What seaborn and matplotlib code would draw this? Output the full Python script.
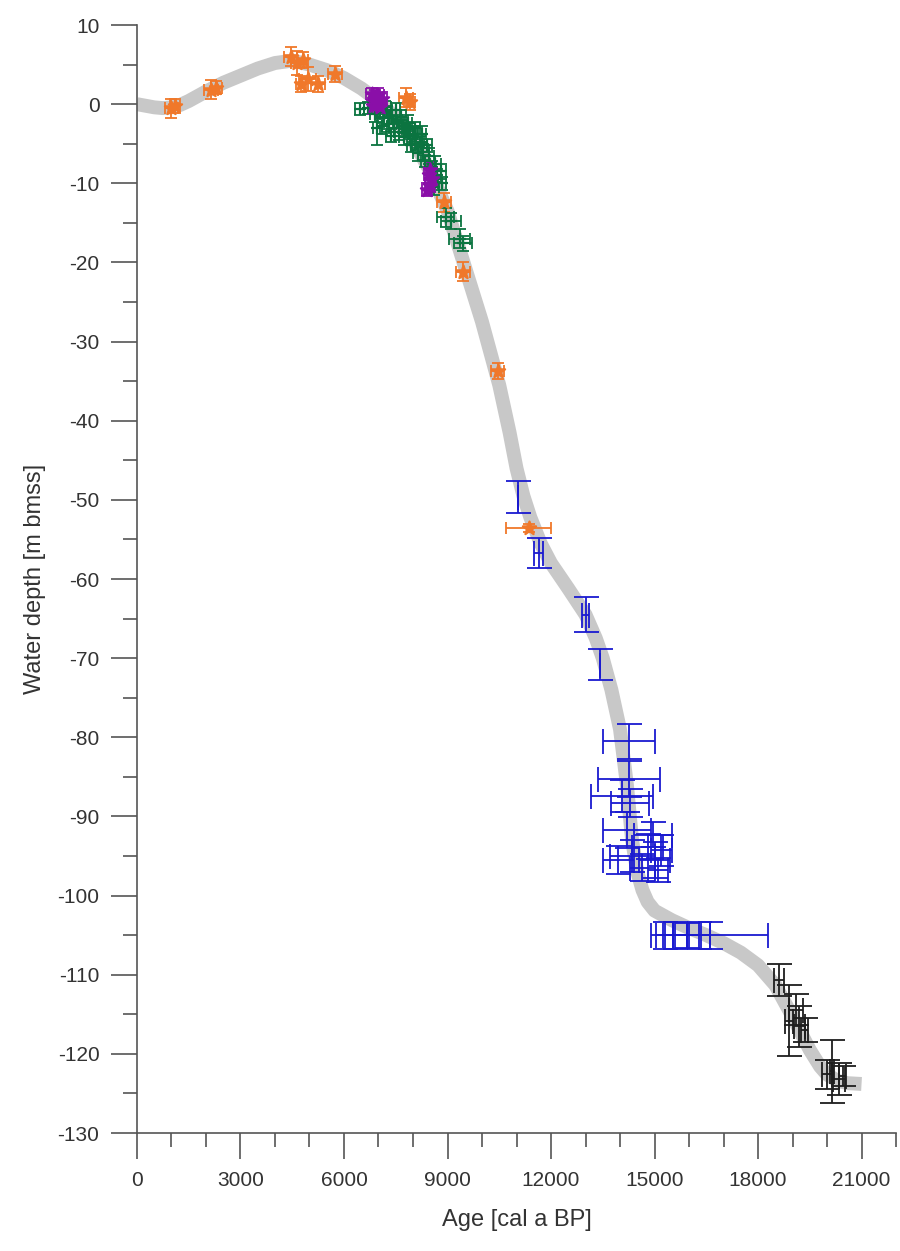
import numpy as np
import pandas as pd
import matplotlib
matplotlib.use('Agg')
import matplotlib.pyplot as plt
import seaborn as sns
from matplotlib.ticker import MultipleLocator

# smoothed sea-level curve (grey band)
curve_age = [0, 250, 500, 750, 1000, 1250, 1500, 1750, 2000, 2500, 3000, 3500, 4000, 4500,
             5000, 5500, 6000, 6500, 7000, 7500, 8000, 8500, 9000, 9500, 10000, 10500,
             10800, 11000, 11200, 11400, 11700, 12000, 12500, 13000, 13300, 13500, 13750,
             14000, 14200, 14350, 14500, 14650, 14800, 15000, 15500, 16000, 16500, 17000,
             17500, 18000, 18500, 19000, 19500, 19800, 20000, 20300, 20600, 21000]
curve_depth = [0.0, -0.2, -0.4, -0.5, -0.4, -0.1, 0.4, 1.0, 1.6, 2.7, 3.6, 4.5, 5.2, 5.5,
               5.0, 4.3, 3.3, 2.0, 0.4, -1.8, -4.5, -8.5, -13.5, -20.5, -27.5, -35.5,
               -41.5, -46.0, -49.5, -52.2, -55.5, -58.0, -61.2, -64.5, -67.5, -70.0, -74.0,
               -79.0, -86.0, -93.0, -97.0, -99.3, -100.8, -101.9, -103.1, -104.1, -105.0, -106.0,
               -107.2, -108.8, -111.3, -115.3, -119.5, -121.6, -122.6, -123.4, -123.7, -123.8]

# orange samples
orange_age = [1000, 1100, 2150, 2300, 4450, 4650, 4800, 4950, 4750, 5250, 5750, 7800, 7900,
              8900, 9450, 10450, 11350]
orange_depth = [-0.5, -0.2, 1.8, 2.1, 6.0, 5.2, 5.6, 3.2, 2.6, 2.6, 3.8, 0.8, 0.3,
                -12.4, -21.2, -33.7, -53.6]
orange_xerr = [200, 150, 200, 150, 200, 200, 150, 250, 150, 200, 200, 200, 150,
               200, 200, 200, 650]
orange_yerr = [1.2, 0.9, 1.2, 0.8, 1.2, 1.5, 1.0, 1.5, 1.0, 1.0, 1.0, 1.2, 1.0,
               1.2, 1.2, 1.0, 0.5]

# green samples
green_age = [6450, 6700, 6900, 7050, 7150, 7250, 7300, 7400, 7450, 7550, 7600, 7700, 7750,
             7800, 7900, 7950, 8000, 8100, 8150, 8200, 8300, 8350, 8450, 8550, 8650, 8700,
             8800, 8850, 7100, 7350, 6950, 8600, 7200, 7500, 7650, 7850, 8050, 8250, 8400,
             8950, 9100, 9350, 9450]
green_depth = [-0.6, -0.5, -1.2, -0.8, -1.8, -1.0, -2.5, -1.5, -3.0, -2.2, -3.5, -2.8, -4.2,
               -3.2, -4.0, -5.2, -3.8, -5.0, -6.2, -4.8, -6.0, -7.2, -6.5, -8.0, -7.5, -9.0,
               -8.5, -10.0, -2.8, -4.0, -3.0, -10.5, -0.4, -0.8, -1.6, -2.4, -3.0, -3.8, -5.2,
               -14.3, -14.8, -17.0, -17.6]
green_xerr = [120, 120, 150, 120, 150, 120, 150, 120, 150, 120, 150, 120, 150,
              120, 150, 120, 150, 120, 150, 120, 150, 120, 150, 120, 150, 120,
              150, 120, 150, 120, 100, 150, 150, 120, 150, 120, 150, 120, 150,
              250, 300, 300, 250]
green_yerr = [0.8, 0.8, 1.0, 0.8, 1.0, 0.8, 1.0, 0.8, 1.0, 0.8, 1.0, 0.8, 1.0,
              0.8, 1.0, 0.8, 1.0, 0.8, 1.0, 0.8, 1.0, 0.8, 1.0, 0.8, 1.0, 0.8,
              1.0, 0.8, 1.0, 0.8, 2.2, 1.0, 0.8, 1.0, 0.8, 1.0, 0.8, 1.0, 0.8,
              1.2, 1.0, 1.2, 1.0]

# purple samples
purple_age = [6800, 6900, 7000, 6950, 7100, 6850, 7050, 8450, 8500, 8550, 8400, 8500]
purple_depth = [1.3, 0.8, 1.2, 0.2, 0.7, -0.2, -0.3, -9.0, -10.3, -9.5, -10.8, -8.3]
purple_xerr = [150, 120, 150, 120, 150, 120, 150, 120, 150, 120, 150, 120]
purple_yerr = [0.8, 1.0, 0.8, 1.0, 0.8, 1.0, 0.8, 1.0, 0.8, 1.0, 0.8, 1.0]

# blue samples
blue_age = [11050, 11650, 13000, 13420, 14250, 14250, 14050, 14300, 14200, 13950, 14350,
            14800, 15000, 15200, 15100, 14650, 14950, 15300, 15600, 15950, 16300, 16600]
blue_depth = [-49.6, -56.7, -64.5, -70.8, -80.5, -85.3, -87.4, -88.3, -91.7, -95.5, -95.0,
              -93.8, -95.5, -94.3, -96.8, -96.5, -92.3, -105.0, -105.0, -105.0, -105.0, -105.0]
blue_xerr = [0, 130, 100, 0, 750, 900, 900, 550, 700, 450, 650,
             450, 450, 300, 300, 350, 550, 250, 350, 400, 300, 1700]
blue_yerr = [2.0, 1.9, 2.2, 1.9, 2.2, 2.3, 2.0, 1.8, 2.3, 1.8, 2.0,
             1.6, 2.3, 2.0, 1.5, 1.7, 1.6, 1.7, 1.7, 1.6, 1.7, 1.7]

# black samples
black_age = [18600, 18900, 19100, 19200, 19350, 20000, 20150, 20350, 20450]
black_depth = [-110.7, -115.8, -114.4, -116.5, -117.0, -122.6, -122.2, -123.2, -122.8]
black_xerr = [150, 120, 200, 150, 100, 150, 60, 180, 100]
black_yerr = [2.0, 4.5, 2.0, 2.6, 1.5, 1.8, 4.0, 2.0, 1.3]

sns.set_style('ticks')
plt.rcParams['font.family'] = ['Liberation Sans', 'DejaVu Sans']
plt.rcParams['axes.unicode_minus'] = False

fig = plt.figure(figsize=(9, 12.51), dpi=100)
ax = fig.add_axes([0.1522, 0.0943, 0.8434, 0.8857])

curve = pd.DataFrame({'age': curve_age, 'depth': curve_depth})
sns.lineplot(data=curve, x='age', y='depth', sort=False, color='#c8c8c8', lw=10,
             solid_capstyle='butt', solid_joinstyle='round', ax=ax, zorder=1)

groups = [
    (orange_age, orange_depth, orange_xerr, orange_yerr, '#f0782a', '*', 10),
    (green_age, green_depth, green_xerr, green_yerr, '#0b7440', '+', 8),
    (purple_age, purple_depth, purple_xerr, purple_yerr, '#8a0fa8', '*', 10),
    (blue_age, blue_depth, blue_xerr, blue_yerr, '#1a1ad0', None, 0),
    (black_age, black_depth, black_xerr, black_yerr, '#1e1e1e', None, 0),
]
for age, depth, xe, ye, col, mk, ms in groups:
    big = col in ('#1a1ad0', '#1e1e1e')
    ax.errorbar(age, depth, xerr=xe, yerr=ye, fmt='none', ecolor=col,
                elinewidth=1.3, capsize=9 if big else 4, capthick=1.3, zorder=3)
    if mk is not None:
        sns.scatterplot(x=age, y=depth, color=col, marker=mk, s=ms ** 2,
                        linewidth=1.6, edgecolor=col, ax=ax, zorder=4)

ax.set_xlim(0, 22000)
ax.set_ylim(-130, 10)
ax.xaxis.set_major_locator(MultipleLocator(3000))
ax.xaxis.set_minor_locator(MultipleLocator(1000))
ax.yaxis.set_major_locator(MultipleLocator(10))
ax.yaxis.set_minor_locator(MultipleLocator(5))
ax.set_xticks(range(0, 21001, 3000))

sns.despine(ax=ax)
for s in ('left', 'bottom'):
    ax.spines[s].set_color('#555555')
    ax.spines[s].set_linewidth(1.2)
ax.tick_params(which='major', direction='out', length=19, width=1.2, color='#555555',
               labelsize=15, labelcolor='#333333', pad=8)
ax.tick_params(which='minor', direction='out', length=10, width=1.2, color='#555555')

ax.set_xlabel('Age [cal a BP]', fontsize=17, color='#333333', labelpad=14)
ax.set_ylabel('Water depth [m bmss]', fontsize=17, color='#333333', labelpad=8)

fig.savefig('out.png', dpi=100, facecolor='white')
